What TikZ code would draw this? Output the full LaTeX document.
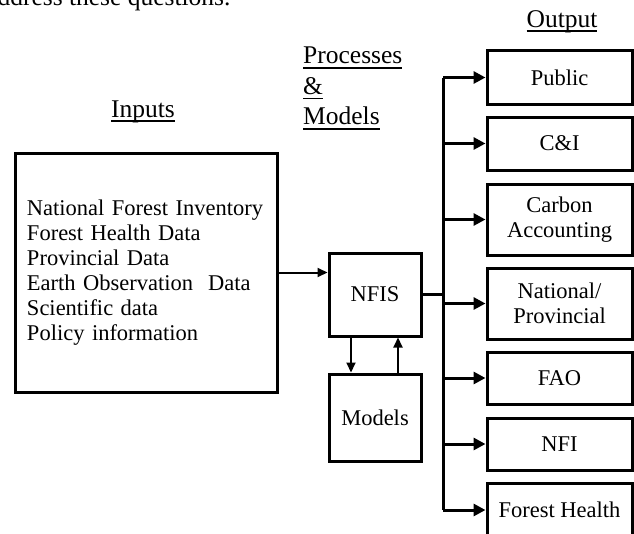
\documentclass[tikz,border=0pt]{standalone}
\usepackage{fontspec}
\setmainfont{Liberation Serif}
\usetikzlibrary{arrows.meta}
\newcommand\hdrline[1]{\setbox0\hbox{#1}\rlap{\rule[-5pt]{\wd0}{1.6pt}}\box0}
\begin{document}
\begin{tikzpicture}[x=1pt, y=-1pt,
    hdr/.style={inner sep=0pt, font=\fontsize{25.5}{30.5}\selectfont},
    boxtext/.style={font=\fontsize{22.5}{25}\selectfont}]
              \useasboundingbox (0,0) rectangle (634,533);
              \node[hdr, anchor=base west] (toptxt) at (-14,5) {address these questions.};
              \node[hdr, anchor=base] (outlbl) at (562,27) {\hdrline{Output}};
              \node[hdr, anchor=north west, align=left] (proclbl) at (303,47) {\hdrline{Processes}\\\hdrline{\&}\\\hdrline{Models}};
              \node[hdr, anchor=base] (inlbl) at (143,117) {\hdrline{Inputs}};
              \begin{scope}[every node/.style={draw=black, line width=3pt, boxtext}]
                \node[minimum width=262pt, minimum height=239pt, text width=238pt, inner xsep=12pt, align=left] (inbox) at (146,272.5)
                  {National Forest Inventory\\Forest Health Data\\Provincial Data\\Earth Observation~ Data\\Scientific data\\Policy information};
                \node[minimum width=92pt, minimum height=83pt] (nfis) at (375,294.5) {NFIS};
                \node[minimum width=92pt, minimum height=87pt] (models) at (375,417.5) {Models};
              \end{scope}
              \begin{scope}[every node/.style={draw=black, line width=3pt, boxtext, align=center, minimum width=145pt}]
                \node[minimum height=54pt] (pub) at (559.5,77.5) {Public};
                \node[minimum height=53pt] (ci) at (559.5,143.5) {C\&I};
                \node[minimum height=71pt] (carbon) at (559.5,219.5) {Carbon\\Accounting};
                \node[minimum height=71pt] (natprov) at (559.5,303.5) {National/\\Provincial};
                \node[minimum height=52pt] (fao) at (559.5,378) {FAO};
                \node[minimum height=52pt] (nfi) at (559.5,444) {NFI};
                \node[minimum height=54pt] (fhealth) at (559.5,510) {Forest Health};
              \end{scope}
              \coordinate (bus) at (443,294.5);
              \begin{scope}[every edge/.style={draw=black, line width=2pt, -{Triangle[length=10pt,width=9pt]}}]
                \path (inbox.east) edge (inbox.east -| nfis.west);
                \path ([xshift=-24pt]nfis.south) edge ([xshift=-24pt]models.north);
                \path ([xshift=23pt]models.north) edge ([xshift=23pt]nfis.south);
              \end{scope}
              \draw[line width=2.5pt] (nfis.east) -- (bus);
              \draw[line width=3pt] (bus |- pub.west) -- (bus |- fhealth.west);
              \begin{scope}[every edge/.style={draw=black, line width=3pt, -{Triangle[length=12pt,width=12pt]}}]
                \path (bus |- pub.west) edge (pub.west);
                \path (bus |- ci.west) edge (ci.west);
                \path (bus |- carbon.west) edge (carbon.west);
                \path (bus |- natprov.west) edge (natprov.west);
                \path (bus |- fao.west) edge (fao.west);
                \path (bus |- nfi.west) edge (nfi.west);
                \path (bus |- fhealth.west) edge (fhealth.west);
              \end{scope}
            \end{tikzpicture}
\end{document}
